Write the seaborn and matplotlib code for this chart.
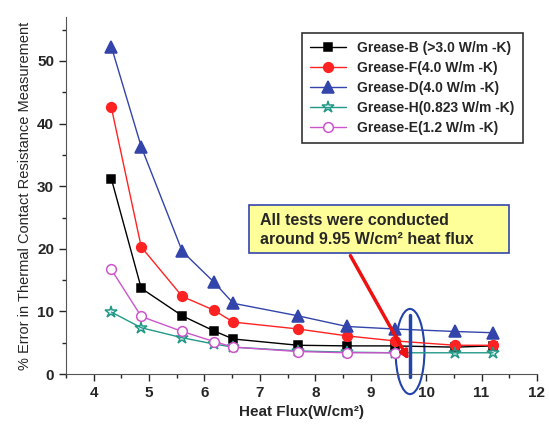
import matplotlib
matplotlib.use("Agg")
import matplotlib.pyplot as plt
from matplotlib.patches import Ellipse, Rectangle
import seaborn as sns
import pandas as pd

heat_flux = [4.32, 4.86, 5.60, 6.17, 6.52, 7.69, 8.57, 9.43, 10.52, 11.21]
grease_b = [31.2, 13.7, 9.3, 6.9, 5.6, 4.6, 4.5, 4.5, 4.3, 4.5]
grease_f = [42.6, 20.3, 12.4, 10.2, 8.3, 7.2, 6.1, 5.3, 4.6, 4.6]
grease_d = [52.3, 36.3, 19.6, 14.7, 11.3, 9.3, 7.6, 7.2, 6.8, 6.6]
grease_h = [9.9, 7.4, 5.8, 4.8, 4.3, 3.7, 3.5, 3.4, 3.4, 3.4]
grease_e = [16.7, 9.2, 6.8, 5.2, 4.3, 3.6, 3.4, 3.4]
labels = ["Grease-B (>3.0 W/m -K)", "Grease-F(4.0 W/m -K)", "Grease-D(4.0 W/m -K)",
          "Grease-H(0.823 W/m -K)", "Grease-E(1.2 W/m -K)"]

sns.set_style("ticks")
plt.rcParams['font.family'] = ['Liberation Sans', 'DejaVu Sans']

fig = plt.figure(figsize=(5.49, 4.28), dpi=100)
ax = fig.add_axes([0.120, 0.126, 0.858, 0.834])

series = [
    (grease_b, labels[0], "#000000", "s", "#000000", 6),
    (grease_f, labels[1], "#FF2222", "o", "#FF2222", 7),
    (grease_d, labels[2], "#3344AA", "^", "#3344AA", 8),
    (grease_h, labels[3], "#229988", "*", "none", 9),
    (grease_e, labels[4], "#CC55CC", "o", "white", 7),
]
handles = []
for vals, lab, col, mk, fc, ms in series:
    df = pd.DataFrame({"x": heat_flux[:len(vals)], "y": vals})
    sns.lineplot(data=df, x="x", y="y", ax=ax, color=col, marker=mk, markersize=ms,
                 markerfacecolor=fc, markeredgecolor=col, markeredgewidth=1.1,
                 linewidth=1.0, label=lab, legend=False)
    handles.append(ax.lines[-1])

ax.set_xlim(3.5, 12)
ax.set_ylim(0, 57)
ax.set_xticks(range(4, 13))
ax.set_xticks([x + 0.5 for x in range(3, 12)], minor=True)
ax.set_yticks(range(0, 51, 10))
ax.set_yticks(range(5, 56, 10), minor=True)
ax.tick_params(axis='both', which='major', direction='out', length=5, width=1, labelsize=11)
ax.tick_params(axis='both', which='minor', direction='out', length=3, width=1)
for t in ax.get_xticklabels() + ax.get_yticklabels():
    t.set_fontweight('bold')
for s in ['top', 'right']:
    ax.spines[s].set_visible(False)
ax.spines['left'].set_color('#555555')
ax.spines['bottom'].set_color('#555555')

ax.set_xlabel("Heat Flux(W/cm²)", fontsize=11, fontweight='bold')
ax.set_ylabel("% Error in Thermal Contact Resistance Measurement", fontsize=10.5)

leg = ax.legend(handles=handles, labels=labels, loc='upper left',
                bbox_to_anchor=(0.486, 0.975), frameon=True, fancybox=False,
                handlelength=2.6, borderpad=0.6, labelspacing=0.42,
                prop={'weight': 'bold', 'size': 10})
leg.get_frame().set_edgecolor('black')
leg.get_frame().set_linewidth(1.2)

# annotation box
ax.add_patch(Rectangle((6.80, 19.3), 4.69, 7.7, facecolor='#FFFF99', edgecolor='#3344AA',
                       linewidth=1.2, zorder=3))
ax.text(7.0, 24.6, "All tests were conducted", fontsize=11.5, fontweight='bold',
        va='center', ha='left', zorder=4)
ax.text(7.0, 21.5, "around 9.95 W/cm² heat flux", fontsize=11.5, fontweight='bold',
        va='center', ha='left', zorder=4)

ax.annotate("", xy=(9.71, 1.9), xytext=(8.61, 19.3),
            arrowprops=dict(arrowstyle='-|>', color='#EE1111', lw=2.5, mutation_scale=12),
            zorder=5)

ax.add_patch(Ellipse((9.71, 3.6), 0.52, 13.6, fill=False, edgecolor='#2244AA', linewidth=1.5, clip_on=False))
ax.plot([9.71, 9.71], [9.4, -0.5], color='#2244AA', linewidth=2.5, clip_on=False)

fig.savefig("out.png", dpi=100)
